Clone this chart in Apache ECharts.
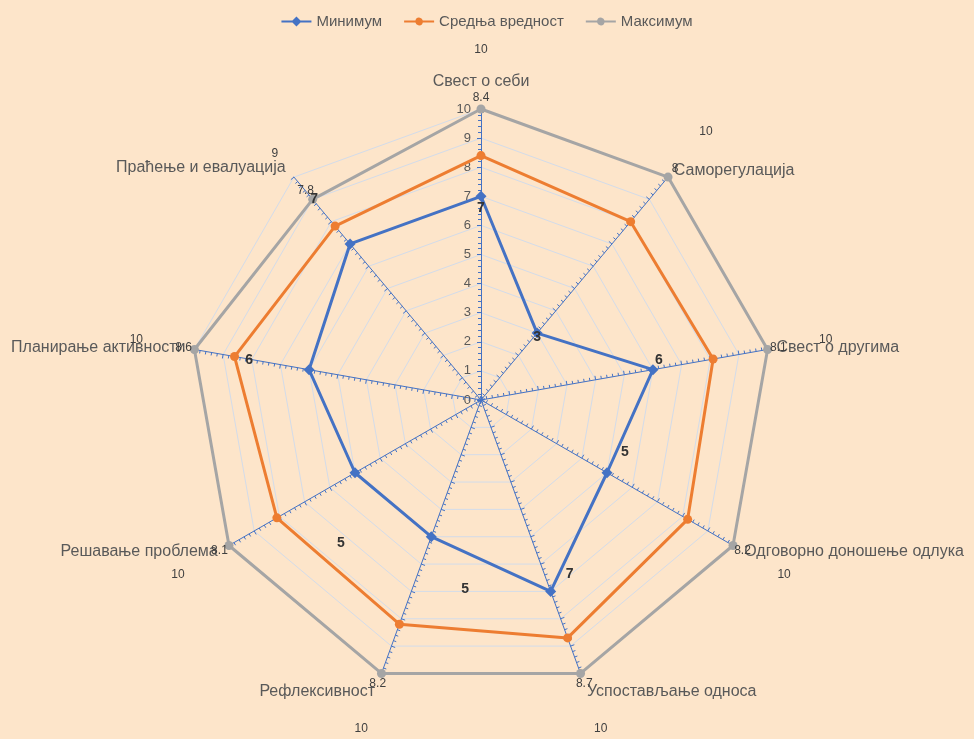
<!DOCTYPE html>
<html><head><meta charset="utf-8">
<script src="https://cdn.jsdelivr.net/npm/echarts@6/dist/echarts.min.js"></script>
<style>html,body{margin:0;padding:0;background:#FDE5CA}#c{width:974px;height:739px}</style>
</head><body><div id="c"></div>
<script>
const indicators = ['Свест о себи','Саморегулација','Свест о другима','Одговорно доношење одлука','Успостављање односа','Рефлексивност','Решавање проблема','Планирање активности','Праћење и евалуација'];
const minValues = [7, 3, 6, 5, 7, 5, 5, 6, 7];
const avgValues = [8.4, 8, 8.1, 8.2, 8.7, 8.2, 8.1, 8.6, 7.8];
const maxValues = [10, 10, 10, 10, 10, 10, 10, 10, 9];
const seriesNames = ['Минимум', 'Средња вредност', 'Максимум'];
const axisMax = 10;

const CX = 481, CY = 400, R = 291;
const minLabelOffsets = [[0,12],[0,4],[6,-10],[18,-21],[19,-17],[34,52],[-14,70],[-60,-10],[-36,-45]];
const nameGaps = [19, 9, 9, 13, 19, 19, 13, 9, 13];

// ECharts lays indicators counter-clockwise; reorder so the chart reads clockwise
const N = indicators.length;
const order = indicators.map((_, j) => (N - j) % N);
const pos = i => (N - i) % N;
const reorder = arr => order.map(k => arr[k]);

const chart = echarts.init(document.getElementById('c'));

function vertexInfo(rect){
  const x = rect.x + rect.width/2, y = rect.y + rect.height/2;
  let a = Math.atan2(x - CX, CY - y);
  if (a < 0) a += 2*Math.PI;
  const i = Math.round(a/(2*Math.PI/N)) % N;
  return {i, x, y};
}
function radialFromMax(i, extra){
  const cs = chart.getModel().getComponent('radar').coordinateSystem;
  const p = cs.dataToPoint(maxValues[i], pos(i));
  const dx = p[0]-CX, dy = p[1]-CY, L = Math.sqrt(dx*dx+dy*dy) || 1;
  return {x: p[0] + dx/L*extra, y: p[1] + dy/L*extra, align:'center', verticalAlign:'middle'};
}

const diamondIcon = 'path://M0,4 L11,4 L15,0 L19,4 L30,4 L30,6 L19,6 L15,10 L11,6 L0,6 Z';
const circleIcon = 'path://M0,4 L11.3,4 A3.8,3.8 0 0 1 18.7,4 L30,4 L30,6 L18.7,6 A3.8,3.8 0 0 1 11.3,6 L0,6 Z';

const option = {
  backgroundColor: '#FDE5CA',
  animation: false,
  textStyle: {fontFamily: 'Liberation Sans'},
  legend: {
    top: 9, left: 'center', itemWidth: 30, itemHeight: 10, itemGap: 22,
    textStyle: {color: '#595959', fontSize: 15, fontFamily: 'Liberation Sans'},
    data: [
      {name: seriesNames[0], icon: diamondIcon},
      {name: seriesNames[1], icon: circleIcon},
      {name: seriesNames[2], icon: circleIcon}
    ]
  },
  radar: {
    center: [CX, CY], radius: R, startAngle: 90, splitNumber: 10, shape: 'polygon',
    indicator: order.map((k, j) => ({
      name: indicators[k], min: 0, max: axisMax,
      nameGap: nameGaps[k],
      minorTick: {show: true, splitNumber: 5, length: 3, lineStyle: {color: '#4472C4', width: 1}},
      axisLabel: j === 0 ? {show: true, color: '#595959', fontSize: 13, margin: 10} : {show: false}
    })),
    axisName: {color: '#595959', fontSize: 16, fontFamily: 'Liberation Sans'},
    nameGap: 13,
    axisLine: {lineStyle: {color: '#4472C4', width: 1}},
    axisTick: {show: true, length: 4, lineStyle: {color: '#4472C4', width: 1}},
    splitLine: {lineStyle: {color: '#D3DCEA', width: 1}},
    splitArea: {show: false},
    axisLabel: {show: false}
  },
  series: [
    {
      type: 'radar', name: seriesNames[0], z: 4,
      data: [{name: seriesNames[0], value: reorder(minValues)}],
      symbol: 'diamond', symbolSize: 11,
      lineStyle: {color: '#4472C4', width: 3},
      itemStyle: {color: '#4472C4'},
      label: {show: true, color: '#333', fontSize: 14, fontWeight: 'bold'},
      labelLayout: function(p){
        const v = vertexInfo(p.rect);
        const o = minLabelOffsets[v.i];
        return {x: v.x + o[0], y: v.y + o[1], align: 'center', verticalAlign: 'middle'};
      },
      emphasis: {disabled: true}
    },
    {
      type: 'radar', name: seriesNames[1], z: 3,
      data: [{name: seriesNames[1], value: reorder(avgValues)}],
      symbol: 'circle', symbolSize: 9,
      lineStyle: {color: '#ED7D31', width: 3},
      itemStyle: {color: '#ED7D31'},
      label: {show: true, color: '#404040', fontSize: 12},
      labelLayout: function(p){
        const v = vertexInfo(p.rect);
        return radialFromMax(v.i, 11);
      },
      emphasis: {disabled: true}
    },
    {
      type: 'radar', name: seriesNames[2], z: 2,
      data: [{name: seriesNames[2], value: reorder(maxValues)}],
      symbol: 'circle', symbolSize: 9,
      lineStyle: {color: '#A5A5A5', width: 3},
      itemStyle: {color: '#A5A5A5'},
      label: {show: true, color: '#404040', fontSize: 12},
      labelLayout: function(p){
        const v = vertexInfo(p.rect);
        return radialFromMax(v.i, 59);
      },
      emphasis: {disabled: true}
    }
  ]
};
chart.setOption(option);
</script>
</body></html>
